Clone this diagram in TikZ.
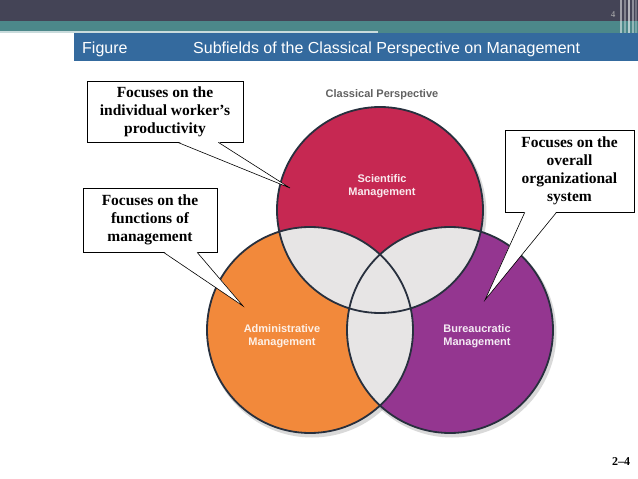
\documentclass[tikz,border=0pt]{standalone}
\usepackage{fontspec}
\setmainfont{Liberation Serif}
\setsansfont{Liberation Sans}
\usetikzlibrary{positioning, calc}

\definecolor{headdark}{RGB}{68,68,86}
\definecolor{headteal}{RGB}{76,136,138}
\definecolor{titleblue}{RGB}{52,106,158}
\definecolor{scired}{RGB}{198,40,82}
\definecolor{admorange}{RGB}{242,137,59}
\definecolor{burpurple}{RGB}{148,54,144}
\definecolor{overgray}{RGB}{231,229,229}
\definecolor{ringline}{RGB}{40,48,62}

\begin{document}
\begin{tikzpicture}[x=1pt, y=-1pt,
ring/.style={draw=ringline, line width=1.8pt},
circtext/.style={font=\sffamily\bfseries\fontsize{11}{12.5}\selectfont, align=center},
note/.style={draw=black, fill=white, line width=.6pt, inner sep=0pt, align=center,
  font=\bfseries\fontsize{15.5}{18}\selectfont},
callout/.style={draw=black, line width=.6pt, line join=miter}]

\useasboundingbox (0,0) rectangle (638,479);

%header
\fill[headdark] (0,0) rectangle (638,21);
\fill[headteal] (0,21) rectangle (638,33);
\fill[headteal!30!white] (0,30.5) rectangle (378,33);
\foreach \X/\C in {620/50, 624/35, 628/60, 632/40, 635/25}
{\fill[white, opacity=.\C] (\X,0) rectangle ++(2,33);}
\fill[titleblue] (74,33) rectangle (638,61);
\node[anchor=base west, inner sep=0pt, text=white, font=\sffamily\fontsize{16}{16}\selectfont]
  (fig) at (82,53.5) {Figure};
\node[anchor=base west, inner sep=0pt, text=white, font=\sffamily\fontsize{16}{16}\selectfont]
  (title) at (193,53.5) {Subfields of the Classical Perspective on Management};
\node[font=\fontsize{9}{9}\selectfont, text=black!30!white] (page) at (613,15) {4};

%circles
\coordinate (sci) at (380,210);
\coordinate (adm) at (310,330);
\coordinate (bur) at (450,330);
\def\R{103pt}

\foreach \C in {sci, adm, bur}
{\fill[black, opacity=.15] ($(\C)+(2,3)$) circle[radius=\R+1.5pt];}

\fill[scired] (sci) circle[radius=\R];
\fill[admorange] (adm) circle[radius=\R];
\fill[burpurple] (bur) circle[radius=\R];
\begin{scope}
\clip (sci) circle[radius=\R];
\fill[overgray] (adm) circle[radius=\R];
\fill[overgray] (bur) circle[radius=\R];
\end{scope}
\begin{scope}
\clip (adm) circle[radius=\R];
\fill[overgray] (bur) circle[radius=\R];
\end{scope}
\foreach \C in {sci, adm, bur}
{\draw[ring] (\C) circle[radius=\R];}

\node[circtext, text=scired!10!white] (scitext) at (382,186) {Scientific\\Management};
\node[circtext, text=admorange!12!white] (admtext) at (282,336) {Administrative\\Management};
\node[circtext, text=burpurple!10!white] (burtext) at (477,336) {Bureaucratic\\Management};
\node[font=\sffamily\bfseries\fontsize{11}{12}\selectfont, text=black!62] (classic) at (382,95)
  {Classical Perspective};

%callouts
\node[note, minimum width=156pt, minimum height=61pt] (worker) at (165,111.5)
  {Focuses on the\\individual worker’s\\productivity};
\node[note, minimum width=134pt, minimum height=64pt] (mgmt) at (150,220)
  {Focuses on the\\functions of\\management};
\node[note, minimum width=129pt, minimum height=82pt] (system) at (569.5,171)
  {Focuses on the\\overall\\organizational\\system};

\coordinate (worker-tip) at (290,188);
\coordinate (mgmt-tip) at (243,306);
\coordinate (system-tip) at (485,300);

\foreach \N/\A/\B in {worker/.58/.84, mgmt/.60/.85, system/.155/.40}
{
\coordinate (\N-a) at ($(\N.south west)!\A!(\N.south east)$);
\coordinate (\N-b) at ($(\N.south west)!\B!(\N.south east)$);
\fill[white] ($(\N-a)+(0,-.8)$) -- (\N-tip) -- ($(\N-b)+(0,-.8)$) -- cycle;
\draw[callout] (\N-a) -- (\N-tip) -- (\N-b);
}

\node[font=\bfseries\fontsize{12}{12}\selectfont] (slide) at (621,462) {2--4};
\end{tikzpicture}
\end{document}
